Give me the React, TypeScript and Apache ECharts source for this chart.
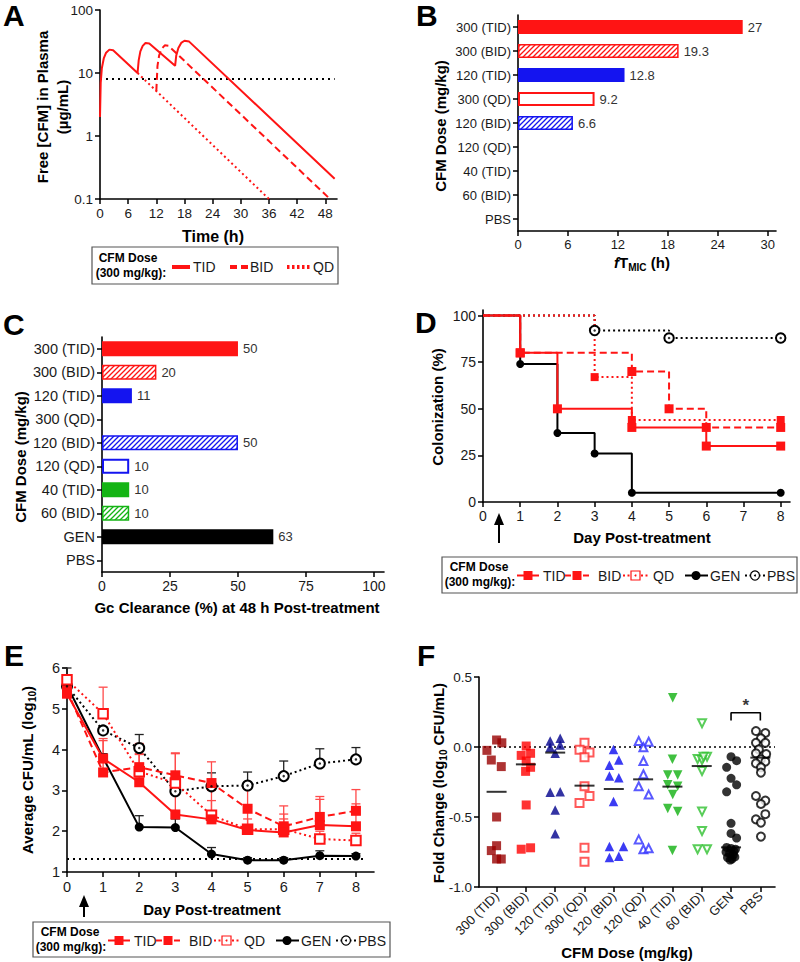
import React, { useEffect, useRef } from "react";
import * as echarts from "echarts";

const FONT = "'Liberation Sans', Arial, Helvetica, sans-serif";
const RED = "#ff1414";
const BLUE = "#1414f0";
const GREEN = "#14b414";
const BLACK = "#000000";

// ---------- Panel A: free CFM in plasma (µg/mL) vs time (h), [t, conc]
const pkTID = [[0, 2], [0.15, 7], [0.4, 12], [0.8, 17], [1.3, 21], [2, 23.5], [2.8, 23], [8, 10], [8.25, 16], [8.6, 22], [9.1, 27], [9.7, 30], [10.5, 29.5], [16, 13], [16.25, 19], [16.7, 25], [17.3, 30], [18, 32.5], [19, 31.5], [50, 0.21]];
const pkBID = [[12, 5.2], [12.25, 13], [12.6, 19], [13.1, 24], [13.8, 27.5], [14.6, 27], [49, 0.1]];
const pkQD = [[8, 10], [36, 0.1]];
const micLine = [[0, 8], [50, 8]];
const ticksA = [0, 6, 12, 18, 24, 30, 36, 42, 48];

// ---------- Panel B: fTMIC (h)
const doseB = ["300 (TID)", "300 (BID)", "120 (TID)", "300 (QD)", "120 (BID)", "120 (QD)", "40 (TID)", "60 (BID)", "PBS"];
const fTmic = [27, 19.3, 12.8, 9.2, 6.6, 0, 0, 0, 0];
const ticksB = [0, 6, 12, 18, 24, 30];

// ---------- Panel C: Gc clearance (%) at 48 h
const doseC = ["300 (TID)", "300 (BID)", "120 (TID)", "300 (QD)", "120 (BID)", "120 (QD)", "40 (TID)", "60 (BID)", "GEN", "PBS"];
const clearance = [50, 20, 11, 0, 50, 10, 10, 10, 63, 0];
const ticksC = [0, 25, 50, 75, 100];

// ---------- Panel D: colonization (%) by day, [day, %]
const kmTID = [[0, 100], [1, 80], [2, 50], [4, 40], [6, 30], [8, 30]];
const kmBID = [[0, 100], [1, 80], [4, 70], [5, 50], [6, 40], [8, 40]];
const kmQD = [[0, 100], [3, 67], [4, 44], [8, 44]];
const kmGEN = [[0, 100], [1, 74], [2, 37], [3, 26], [4, 5], [8, 5]];
const kmPBS = [[0, 100], [3, 92], [5, 88], [8, 88]];
const ticksDay = [0, 1, 2, 3, 4, 5, 6, 7, 8];
const ticksPct = [0, 25, 50, 75, 100];

// ---------- Panel E: average CFU/mL (log10), mean and upper error
const daysE = [0, 1, 2, 3, 4, 5, 6, 7, 8];
const cfuTID = [5.37, 3.78, 3.2, 2.41, 2.29, 2.03, 1.97, 2.15, 2.12];
const cfuBID = [5.45, 3.44, 3.57, 3.37, 3.18, 2.55, 2.12, 2.35, 2.5];
const cfuQD = [5.71, 4.88, 3.46, 3.18, 2.39, 2.05, 2.05, 1.81, 1.77];
const cfuGEN = [5.57, 3.8, 2.1, 2.09, 1.44, 1.29, 1.29, 1.4, 1.39];
const cfuPBS = [5.55, 4.47, 4.04, 2.98, 3.1, 3.12, 3.35, 3.66, 3.76];
const upTID = [5.45, 4.27, 3.88, 3.3, 2.75, 2.6, 2.42, 2.78, 2.67];
const upBID = [5.5, 4.22, 3.9, 3.92, 3.7, 3.15, 2.62, 2.85, 3.02];
const upQD = [5.78, 5.53, 4.15, 3.9, 3.0, 2.3, 2.3, 2.0, 1.95];
const upGEN = [6.0, 3.9, 2.38, 2.3, 1.6, 1.35, 1.35, 1.52, 1.45];
const upPBS = [5.65, 4.55, 4.37, 3.3, 3.43, 3.45, 3.72, 4.02, 4.05];
const detectionLimit = 1.32;

// ---------- Panel F: fold change (log10 CFU/mL), [jitter, value] per group
const fc300TID = [[-0.33, -0.024], [0, 0.05], [0.18, 0.03], [-0.18, -0.093], [0.16, -0.14], [0, -0.5], [0, -0.705], [-0.18, -0.74], [0, -0.8], [0.16, -0.8]];
const fc300BID = [[0.01, 0.007], [-0.16, -0.06], [0.16, -0.045], [0.01, -0.1], [0.16, -0.145], [-0.01, -0.174], [0.01, -0.414], [-0.16, -0.73], [0.16, -0.72]];
const fc120TID = [[-0.17, 0.043], [0.17, 0.062], [-0.17, -0.002], [0.17, 0.014], [0, -0.045], [-0.17, -0.324], [0.17, -0.32], [0, -0.45], [0, -0.62]];
const fc300QD = [[0, 0.03], [-0.17, -0.02], [0.17, -0.04], [0, -0.074], [0, -0.28], [0.17, -0.35], [-0.17, -0.4], [0, -0.72], [0, -0.82]];
const fc120BID = [[-0.01, -0.017], [-0.15, -0.13], [0.17, -0.093], [-0.15, -0.207], [0.17, -0.22], [-0.01, -0.39], [-0.15, -0.71], [0.33, -0.71], [-0.15, -0.79], [0.17, -0.78]];
const fc120QD = [[-0.15, 0.043], [0.19, 0.038], [0.01, -0.002], [0.01, -0.1], [0.01, -0.195], [-0.15, -0.28], [0.19, -0.34], [-0.15, -0.66], [0.01, -0.73], [0.19, -0.724]];
const fc40TID = [[0.01, 0.352], [0, -0.088], [-0.16, -0.2], [0.18, -0.2], [-0.16, -0.27], [0.18, -0.28], [0.01, -0.34], [-0.16, -0.44], [0.18, -0.46], [0, -0.74]];
const fc60BID = [[0.01, 0.17], [-0.14, -0.086], [0.18, -0.069], [0.01, -0.093], [0.06, -0.07], [0.01, -0.171], [0.01, -0.46], [0.01, -0.6], [-0.14, -0.73], [0.18, -0.73]];
const fcGEN = [[0, -0.069], [0.19, -0.098], [-0.15, -0.145], [0, -0.224], [0.19, -0.27], [-0.15, -0.32], [0, -0.545], [0, -0.617], [0.19, -0.65], [-0.15, -0.717], [0, -0.725], [0.15, -0.73], [-0.17, -0.75], [-0.05, -0.76], [0.08, -0.77], [-0.12, -0.79], [0.03, -0.8], [0.13, -0.785], [-0.03, -0.807], [0.1, -0.745]];
const fcPBS = [[-0.15, 0.114], [0.17, 0.1], [0.02, 0.062], [-0.15, 0.03], [0.17, 0.03], [-0.05, -0.017], [-0.15, -0.045], [0.2, -0.05], [0.02, -0.088], [-0.15, -0.117], [0.17, -0.105], [0.02, -0.145], [0.02, -0.183], [-0.15, -0.35], [0.17, -0.383], [0.02, -0.407], [0.17, -0.48], [-0.15, -0.517], [0.02, -0.54], [0.02, -0.64]];
const fcMeans = [-0.32, -0.124, -0.04, -0.276, -0.3, -0.231, -0.283, -0.136, -0.717, -0.076];
const catIdx = [0, 1, 2, 3, 4, 5, 6, 7, 8, 9];
const sigBracket = [[8, 0.19], [8, 0.245], [9, 0.245], [9, 0.19]];

function hatch(color: string) {
  const s = 5;
  const cv = document.createElement("canvas");
  cv.width = s;
  cv.height = s;
  const ctx = cv.getContext("2d")!;
  ctx.fillStyle = "#ffffff";
  ctx.fillRect(0, 0, s, s);
  ctx.strokeStyle = color;
  ctx.lineWidth = 1.3;
  ctx.beginPath();
  ctx.moveTo(0, s); ctx.lineTo(s, 0);
  ctx.moveTo(-1, 1); ctx.lineTo(1, -1);
  ctx.moveTo(s - 1, s + 1); ctx.lineTo(s + 1, s - 1);
  ctx.stroke();
  return { image: cv.toDataURL(), repeat: "repeat", imageWidth: s, imageHeight: s };
}

function doseColor(label: string) {
  if (label.startsWith("300")) return RED;
  if (label.startsWith("120")) return BLUE;
  if (label.startsWith("40") || label.startsWith("60")) return GREEN;
  return BLACK;
}

function barItem(label: string, v: number) {
  if (!v) return "-";
  const c = doseColor(label);
  if (label.includes("BID")) return { value: v, itemStyle: { color: hatch(c), borderColor: c, borderWidth: 1.5 } };
  if (label.includes("QD")) return { value: v, itemStyle: { color: "#ffffff", borderColor: c, borderWidth: 2 } };
  return { value: v, itemStyle: { color: c } };
}

function ax(gridIndex: number, extra: any, label: any = {}, tick: any = {}) {
  return {
    gridIndex,
    axisLine: { show: true, onZero: false, lineStyle: { color: "#000", width: 1.6 } },
    axisTick: { show: true, length: 5, lineStyle: { color: "#000", width: 1.5 }, ...tick },
    axisLabel: { color: "#1a1a1a", fontSize: 13, fontFamily: FONT, margin: 7, ...label },
    splitLine: { show: false },
    minorTick: { show: false },
    ...extra,
  };
}

function txt(x: number, y: number, text: string, o: any = {}) {
  return {
    type: "text",
    x,
    y,
    rotation: o.rot || 0,
    z: 100,
    silent: true,
    style: {
      text,
      fill: o.color || "#000",
      fontSize: o.size || 15,
      fontWeight: o.weight || "bold",
      fontFamily: FONT,
      align: o.align || "center",
      verticalAlign: o.valign || "middle",
      lineHeight: o.lineHeight,
      rich: o.rich,
    },
  };
}

function seg(x1: number, y1: number, x2: number, y2: number, color: string, w: number, dash?: number[]) {
  return { type: "line", z: 100, silent: true, shape: { x1, y1, x2, y2 }, style: { stroke: color, lineWidth: w, lineDash: dash } };
}

function arrow(x: number, yBottom: number, yTop: number) {
  return [
    seg(x, yBottom, x, yTop + 8, "#000", 2),
    { type: "polygon", z: 100, silent: true, shape: { points: [[x - 5, yTop + 12], [x, yTop], [x + 5, yTop + 12]] }, style: { fill: "#000" } },
  ];
}

function cfmLegend(x0: number, y0: number, w: number, h: number) {
  const cy = y0 + 18.5;
  const els: any[] = [];
  els.push({ type: "rect", z: 99, silent: true, shape: { x: x0, y: y0, width: w, height: h }, style: { fill: "#fff", stroke: "#555", lineWidth: 1.2 } });
  els.push(txt(x0 + 37, y0 + 10, "CFM Dose", { size: 12 }));
  els.push(txt(x0 + 38, y0 + 25, "(300 mg/kg):", { size: 12 }));
  // TID
  els.push(seg(x0 + 75, cy, x0 + 97, cy, RED, 2));
  els.push({ type: "rect", z: 101, silent: true, shape: { x: x0 + 81.5, y: cy - 4.5, width: 9, height: 9 }, style: { fill: RED } });
  els.push(txt(x0 + 101, cy, "TID", { size: 14, weight: "normal", align: "left", color: "#1a1a1a" }));
  // BID
  els.push(seg(x0 + 123, cy, x0 + 150, cy, RED, 2, [6, 3]));
  els.push({ type: "rect", z: 101, silent: true, shape: { x: x0 + 130.5, y: cy - 4.5, width: 9, height: 9 }, style: { fill: RED } });
  els.push(txt(x0 + 156, cy, "BID", { size: 14, weight: "normal", align: "left", color: "#1a1a1a" }));
  // QD
  els.push(seg(x0 + 181, cy, x0 + 206, cy, RED, 1.8, [2, 2.5]));
  els.push({ type: "rect", z: 101, silent: true, shape: { x: x0 + 189, y: cy - 4.5, width: 9, height: 9 }, style: { fill: "#fff", stroke: RED, lineWidth: 1.2 } });
  els.push({ type: "circle", z: 102, silent: true, shape: { cx: x0 + 193.5, cy, r: 1 }, style: { fill: RED } });
  els.push(txt(x0 + 211, cy, "QD", { size: 14, weight: "normal", align: "left", color: "#1a1a1a" }));
  // GEN
  els.push(seg(x0 + 243, cy, x0 + 266, cy, BLACK, 2));
  els.push({ type: "circle", z: 101, silent: true, shape: { cx: x0 + 254, cy, r: 4.5 }, style: { fill: BLACK } });
  els.push(txt(x0 + 268, cy, "GEN", { size: 14, weight: "normal", align: "left", color: "#1a1a1a" }));
  // PBS
  els.push(seg(x0 + 303, cy, x0 + 323, cy, BLACK, 1.8, [2, 2.5]));
  els.push({ type: "circle", z: 101, silent: true, shape: { cx: x0 + 313, cy, r: 4.5 }, style: { fill: "#fff", stroke: BLACK, lineWidth: 1.2 } });
  els.push({ type: "circle", z: 102, silent: true, shape: { cx: x0 + 313, cy, r: 1 }, style: { fill: BLACK } });
  els.push(txt(x0 + 325, cy, "PBS", { size: 14, weight: "normal", align: "left", color: "#1a1a1a" }));
  return els;
}

function legendA() {
  const y = 267;
  return [
    { type: "rect", z: 99, silent: true, shape: { x: 92, y: 247, width: 246, height: 37 }, style: { fill: "#fff", stroke: "#555", lineWidth: 1.2 } },
    txt(128, 258, "CFM Dose", { size: 12 }),
    txt(131, 273, "(300 mg/kg):", { size: 12 }),
    seg(172, y, 190, y, RED, 4),
    txt(193, y, "TID", { size: 14, weight: "normal", align: "left", color: "#1a1a1a" }),
    seg(230, y, 248, y, RED, 4, [7, 4]),
    txt(250, y, "BID", { size: 14, weight: "normal", align: "left", color: "#1a1a1a" }),
    seg(287, y, 310, y, RED, 4, [2.5, 2.5]),
    txt(313, y, "QD", { size: 14, weight: "normal", align: "left", color: "#1a1a1a" }),
  ];
}

const subRich = {
  m: { fontSize: 15, fontWeight: "bold", fontFamily: FONT, verticalAlign: "middle", lineHeight: 20 },
  s: { fontSize: 10, fontWeight: "bold", fontFamily: FONT, verticalAlign: "bottom", lineHeight: 20 },
  i: { fontSize: 15, fontWeight: "bold", fontStyle: "italic", fontFamily: FONT, verticalAlign: "middle", lineHeight: 20 },
};

function errBars(means: number[], ups: number[], color: string) {
  return {
    type: "custom",
    xAxisIndex: 4,
    yAxisIndex: 4,
    z: 1,
    silent: true,
    encode: { x: 0, y: [1, 2] },
    data: daysE.map((d, i) => [d, means[i], ups[i]]),
    renderItem: (_p: any, api: any) => {
      const x = api.value(0);
      const a = api.coord([x, api.value(1)]);
      const b = api.coord([x, api.value(2)]);
      return {
        type: "group",
        children: [
          { type: "line", shape: { x1: a[0], y1: a[1], x2: b[0], y2: b[1] }, style: { stroke: color, lineWidth: 1.3 } },
          { type: "line", shape: { x1: b[0] - 4.5, y1: b[1], x2: b[0] + 4.5, y2: b[1] }, style: { stroke: color, lineWidth: 1.3 } },
        ],
      };
    },
  };
}

function kmSeries(pts: number[][], color: string, dash: any, symbol: string, size: number, extra: any = {}) {
  return {
    type: "line",
    xAxisIndex: 3,
    yAxisIndex: 3,
    step: "end",
    data: pts.map((p, i) => (i === 0 ? { value: p, symbol: "none" } : p)),
    symbol,
    symbolSize: size,
    showSymbol: true,
    itemStyle: { color, ...(extra.itemStyle || {}) },
    lineStyle: { color, width: 2, type: dash },
    z: extra.z || 3,
  };
}

function eSeries(vals: number[], color: string, dash: any, symbol: string, size: number, extra: any = {}) {
  return {
    type: "line",
    xAxisIndex: 4,
    yAxisIndex: 4,
    data: daysE.map((d, i) => [d, vals[i]]),
    symbol,
    symbolSize: size,
    showSymbol: true,
    itemStyle: { color, ...(extra.itemStyle || {}) },
    lineStyle: { color, width: 2, type: dash },
    z: extra.z || 3,
  };
}

function fGroup(idx: number, pts: number[][], color: string, symbol: string, size: number, rot = 0, empty = false) {
  return {
    type: "scatter",
    xAxisIndex: 5,
    yAxisIndex: 5,
    data: pts.map((p) => [idx + p[0], p[1]]),
    symbol,
    symbolSize: size,
    symbolRotate: rot,
    itemStyle: empty ? { color, borderColor: color, borderWidth: 1 } : { color },
    z: 3,
  };
}

function buildOption() {
  const grids = [
    { left: 100, top: 10, width: 237, height: 189 },
    { left: 518, top: 15, width: 258, height: 216 },
    { left: 102, top: 337, width: 282, height: 235 },
    { left: 483, top: 310, width: 307, height: 192 },
    { left: 67, top: 668, width: 307, height: 204 },
    { left: 479, top: 677, width: 296, height: 210 },
  ].map((g) => ({ ...g, containLabel: false, outerBoundsMode: "none" }));

  const xAxis = [
    ax(0, { type: "value", min: 0, max: 50.5 }, { customValues: ticksA, fontSize: 13.5 }, { customValues: ticksA }),
    ax(1, { type: "value", min: 0, max: 31 }, { customValues: ticksB }, { customValues: ticksB }),
    ax(2, { type: "value", min: 0, max: 103.7 }, { customValues: ticksC, fontSize: 14 }, { customValues: ticksC }),
    ax(3, { type: "value", min: 0, max: 8.25 }, { customValues: ticksDay, fontSize: 14 }, { customValues: ticksDay }),
    ax(4, { type: "value", min: 0, max: 8.5 }, { customValues: ticksDay, fontSize: 14.5 }, { customValues: ticksDay }),
    ax(5, { type: "value", min: -0.6, max: 9.5 }, { customValues: catIdx, rotate: 45, fontSize: 13, formatter: (v: number) => doseC[Math.round(v)] }, { customValues: catIdx }),
  ];
  const yAxis = [
    ax(0, { type: "log", logBase: 10, min: 0.1, max: 100 }, { fontSize: 13.5, formatter: (v: number) => String(+Number(v).toPrecision(2)) }),
    ax(1, { type: "category", data: doseB, inverse: true }, { fontSize: 13 }, { alignWithLabel: true }),
    ax(2, { type: "category", data: doseC, inverse: true }, { fontSize: 14.5 }, { alignWithLabel: true }),
    ax(3, { type: "value", min: 0, max: 103 }, { customValues: ticksPct, fontSize: 14 }, { customValues: ticksPct }),
    ax(4, { type: "value", min: 1, max: 6, interval: 1 }, { fontSize: 14.5 }),
    ax(5, { type: "value", min: -1, max: 0.5, interval: 0.5 }, { formatter: (v: number) => v.toFixed(1), fontSize: 13.5 }),
  ];

  const lineA = (data: number[][], color: string, type: any, w = 2) => ({
    type: "line", xAxisIndex: 0, yAxisIndex: 0, data, symbol: "none", showSymbol: false,
    lineStyle: { color, width: w, type }, z: 3,
  });

  const barLabel = { show: true, position: "right", distance: 5, color: "#333", fontSize: 13, fontFamily: FONT, formatter: (p: any) => String(p.value) };

  const pbsDots = (axis: number, pts: number[][]) => ({
    type: "scatter", xAxisIndex: axis, yAxisIndex: axis, data: pts, symbol: "circle", symbolSize: 2.5,
    itemStyle: { color: BLACK }, z: 10, silent: true,
  });

  const series: any[] = [
    // A
    lineA(micLine, BLACK, [2, 4]),
    lineA(pkQD, RED, [2, 3]),
    lineA(pkBID, RED, [7, 4]),
    lineA(pkTID, RED, "solid"),
    // B
    { type: "bar", xAxisIndex: 1, yAxisIndex: 1, barWidth: 14, data: doseB.map((d, i) => barItem(d, fTmic[i])), label: barLabel },
    // C
    { type: "bar", xAxisIndex: 2, yAxisIndex: 2, barWidth: 15, data: doseC.map((d, i) => barItem(d, clearance[i])), label: barLabel },
    // D
    kmSeries(kmPBS, BLACK, [2, 3], "emptyCircle", 9.5, { itemStyle: { borderWidth: 1.1 } }),
    pbsDots(3, kmPBS.slice(1)),
    kmSeries(kmGEN, BLACK, "solid", "circle", 8),
    kmSeries(kmQD, RED, [2, 3], "rect", 8),
    kmSeries(kmBID, RED, [7, 4], "rect", 9),
    kmSeries(kmTID, RED, "solid", "rect", 9, { z: 4 }),
    // E
    errBars(cfuPBS, upPBS, "#222"),
    errBars(cfuGEN, upGEN, "#222"),
    errBars(cfuQD, upQD, "#ff4a4a"),
    errBars(cfuBID, upBID, "#ff4a4a"),
    errBars(cfuTID, upTID, "#ff4a4a"),
    {
      type: "line", xAxisIndex: 4, yAxisIndex: 4, data: [[0, detectionLimit], [8.3, detectionLimit]], symbol: "none",
      lineStyle: { color: BLACK, width: 2, type: [2, 4] }, z: 2,
    },
    eSeries(cfuPBS, BLACK, [2, 3], "emptyCircle", 10, { itemStyle: { borderWidth: 1.1 } }),
    pbsDots(4, daysE.map((d, i) => [d, cfuPBS[i]])),
    eSeries(cfuGEN, BLACK, "solid", "circle", 9),
    eSeries(cfuQD, RED, [2, 3], "emptyRect", 9.5, { itemStyle: { borderWidth: 1.1 } }),
    eSeries(cfuBID, RED, [7, 4], "rect", 10),
    eSeries(cfuTID, RED, "solid", "rect", 10, { z: 4 }),
    // F
    {
      type: "line", xAxisIndex: 5, yAxisIndex: 5, data: [[-0.6, 0], [9.5, 0]], symbol: "none",
      lineStyle: { color: BLACK, width: 1.6, type: [2, 3] }, z: 1,
    },
    fGroup(0, fc300TID, "#990000", "rect", 9),
    fGroup(1, fc300BID, "#ff0000", "rect", 9),
    fGroup(2, fc120TID, "#00008c", "triangle", 9.5),
    fGroup(3, fc300QD, "#ff3030", "emptyRect", 8, 0, true),
    fGroup(4, fc120BID, "#0a0af0", "triangle", 9.5),
    fGroup(5, fc120QD, "#3030ff", "emptyTriangle", 8, 0, true),
    fGroup(6, fc40TID, "#10b010", "triangle", 9.5, 180),
    fGroup(7, fc60BID, "#30c030", "emptyTriangle", 8, 180, true),
    fGroup(8, fcGEN, BLACK, "circle", 9),
    fGroup(9, fcPBS, BLACK, "emptyCircle", 8, 0, true),
    {
      type: "scatter", xAxisIndex: 5, yAxisIndex: 5, data: fcMeans.map((m, i) => [i, m]), symbol: "rect",
      symbolSize: [20, 2], itemStyle: { color: BLACK }, z: 6, silent: true,
    },
    {
      type: "line", xAxisIndex: 5, yAxisIndex: 5, data: sigBracket, symbol: "none",
      lineStyle: { color: BLACK, width: 1.6 }, z: 6,
    },
    {
      type: "scatter", xAxisIndex: 5, yAxisIndex: 5, data: [[8.5, 0.3]], symbolSize: 1,
      itemStyle: { color: "rgba(0,0,0,0)" },
      label: { show: true, position: "inside", formatter: "*", fontSize: 17, fontWeight: "bold", color: BLACK, fontFamily: FONT },
      z: 6, silent: true,
    },
  ];

  const graphic: any[] = [
    // panel letters
    txt(3, 15.5, "A", { size: 30, align: "left" }),
    txt(416, 15.5, "B", { size: 30, align: "left" }),
    txt(3, 324, "C", { size: 30, align: "left" }),
    txt(415, 322, "D", { size: 30, align: "left" }),
    txt(4, 655, "E", { size: 30, align: "left" }),
    txt(417, 655, "F", { size: 30, align: "left" }),
    // titles
    txt(52, 107, "Free [CFM] in Plasma\n(µg/mL)", { rot: Math.PI / 2, lineHeight: 20 }),
    txt(213, 236, "Time (h)", { size: 16 }),
    txt(440, 126, "CFM Dose (mg/kg)", { rot: Math.PI / 2 }),
    txt(642, 262, "{i|f}{m|T}{s|MIC}{m| (h)}", { rich: subRich }),
    txt(20, 457, "CFM Dose (mg/kg)", { rot: Math.PI / 2 }),
    txt(237, 607, "Gc Clearance (%) at 48 h Post-treatment"),
    txt(437, 407, "Colonization (%)", { rot: Math.PI / 2 }),
    txt(642, 537, "Day Post-treatment"),
    txt(27, 770, "{m|Average CFU/mL (log}{s|10}{m|)}", { rot: Math.PI / 2, rich: subRich }),
    txt(212, 909, "Day Post-treatment"),
    txt(438, 783, "{m|Fold Change (log}{s|10}{m| CFU/mL)}", { rot: Math.PI / 2, rich: subRich }),
    txt(627, 952, "CFM Dose (mg/kg)"),
    ...legendA(),
    ...cfmLegend(442, 557, 355, 36),
    ...cfmLegend(33, 922, 357, 35),
    ...arrow(499, 543, 513),
    ...arrow(84, 917, 895),
  ];

  return {
    animation: false,
    backgroundColor: "#ffffff",
    textStyle: { fontFamily: FONT },
    grid: grids,
    xAxis,
    yAxis,
    series,
    graphic,
  };
}

export default function App() {
  const ref = useRef<HTMLDivElement>(null);
  useEffect(() => {
    if (!ref.current) return;
    const chart = echarts.init(ref.current, undefined, { renderer: "svg" });
    chart.setOption(buildOption() as any);
    return () => chart.dispose();
  }, []);
  return (
    <div
      ref={ref}
      style={{ position: "absolute", left: 0, top: 0, width: 800, height: 962, background: "#fff" }}
    />
  );
}
